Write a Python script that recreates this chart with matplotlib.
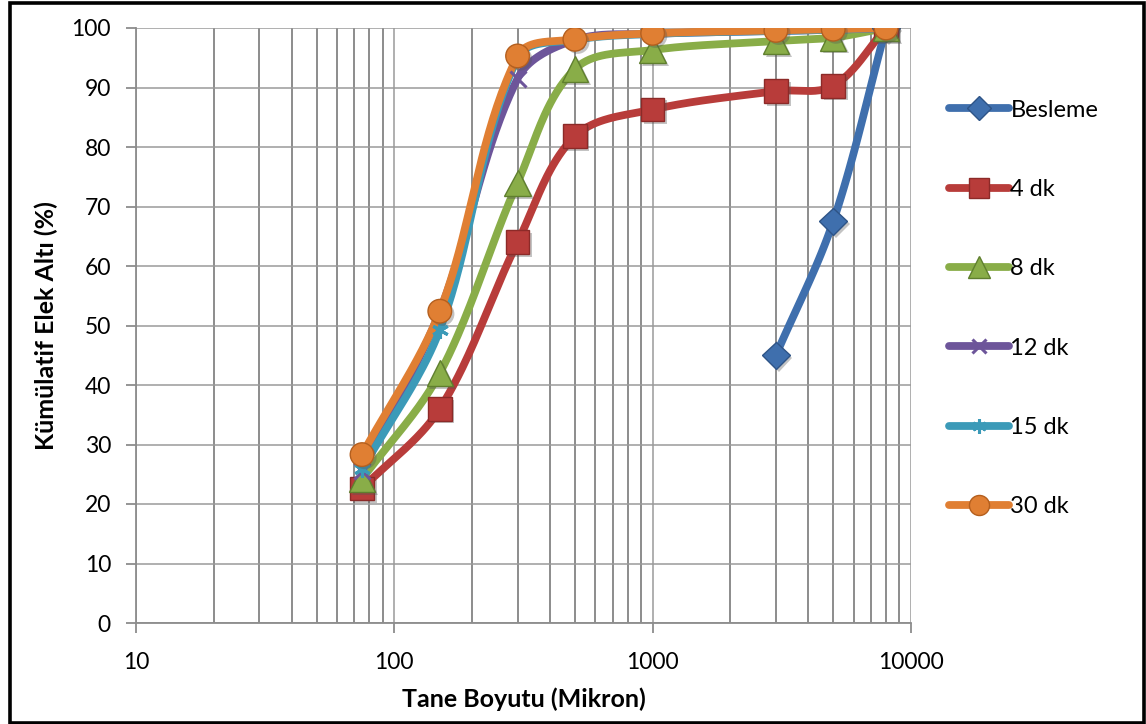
import numpy as np
import matplotlib
matplotlib.use("Agg")
import matplotlib.pyplot as plt
import matplotlib.patheffects as pe
from matplotlib.patches import Rectangle
from matplotlib.ticker import LogLocator, FixedLocator, NullFormatter, FuncFormatter

plt.rcParams['font.family'] = ['Lato', 'DejaVu Sans']

# Sieve sizes (micron) and cumulative undersize (%) for each grinding time
sizes = [75, 150, 300, 500, 1000, 3000, 5000, 8000]
besleme_sizes = [3000, 5000, 8000]
besleme = [45.0, 67.5, 100.0]
dk4 = [22.6, 36.0, 64.0, 81.8, 86.3, 89.4, 90.3, 100.0]
dk8 = [24.2, 42.0, 74.0, 93.1, 96.3, 97.8, 98.4, 100.0]
dk12 = [25.5, 52.4, 91.5, 98.0, 99.0, 99.5, 99.7, 100.0]
dk15 = [25.8, 49.3, 95.0, 98.0, 99.0, 99.5, 99.7, 100.0]
dk30 = [28.3, 52.4, 95.3, 98.1, 99.1, 99.6, 99.8, 100.0]

labels = ['Besleme', '4 dk', '8 dk', '12 dk', '15 dk', '30 dk']
colors = ['#3F6FAD', '#B83C3A', '#89AD48', '#6D559A', '#3B9AB8', '#E07F33']
edge_colors = ['#2E5487', '#8C2A28', '#5F7F2E', '#4E3B75', '#2A7690', '#B45F1E']
markers = ['D', 's', '^', 'x', (6, 2, 0), 'o']
msizes = [14, 17, 19, 12, 12, 17]

series = [
    (besleme_sizes, besleme),
    (sizes, dk4),
    (sizes, dk8),
    (sizes, dk12),
    (sizes, dk15),
    (sizes, dk30),
]

W, H = 1146, 724
fig = plt.figure(figsize=(W / 100, H / 100), dpi=100)
L, R, T, B = 136, 911, 28, 623
ax = fig.add_axes([L / W, 1 - B / H, (R - L) / W, (B - T) / H])

XMIN, XMAX, YMIN, YMAX = 10, 10000, 0, 100
ax.set_xscale('log')
ax.set_xlim(XMIN, XMAX)
ax.set_ylim(YMIN, YMAX)

pw, ph = R - L, B - T


def smooth(xs, ys, n=40, k=1 / 3):
    """Bezier smoothing in screen space; handle length follows each segment's length."""
    u = (np.log10(np.asarray(xs, float)) - np.log10(XMIN)) / np.log10(XMAX / XMIN) * pw
    v = (np.asarray(ys, float) - YMIN) / (YMAX - YMIN) * ph
    P = np.column_stack([u, v])
    m = len(P)

    def tangent(i):
        a = P[i - 1] if i > 0 else P[i]
        b = P[i + 1] if i + 1 < m else P[i]
        d = b - a
        return d / np.hypot(*d)

    out = [P[0]]
    t = np.linspace(0, 1, n)[1:, None]
    for i in range(m - 1):
        seg_len = np.hypot(*(P[i + 1] - P[i]))
        c1 = P[i] + tangent(i) * seg_len * k
        c2 = P[i + 1] - tangent(i + 1) * seg_len * k
        seg = ((1 - t) ** 3) * P[i] + 3 * ((1 - t) ** 2) * t * c1 \
            + 3 * (1 - t) * t ** 2 * c2 + t ** 3 * P[i + 1]
        out.extend(seg)
    out = np.array(out)
    xs_s = 10 ** (out[:, 0] / pw * np.log10(XMAX / XMIN) + np.log10(XMIN))
    ys_s = out[:, 1] / ph * (YMAX - YMIN) + YMIN
    return xs_s, ys_s


ax.xaxis.set_major_locator(LogLocator(base=10, numticks=10))
ax.xaxis.set_minor_locator(LogLocator(base=10, subs=np.arange(2, 10), numticks=50))
ax.xaxis.set_minor_formatter(NullFormatter())
ax.xaxis.set_major_formatter(FuncFormatter(lambda v, p: f'{int(round(v))}'))
ax.yaxis.set_major_locator(FixedLocator(np.arange(0, 101, 10)))

ax.grid(True, which='major', axis='both', color='#9A9A9A', lw=1.1)
ax.grid(True, which='minor', axis='x', color='#6E6E6E', lw=1.1)
ax.set_axisbelow(True)

for s in ['top', 'right']:
    ax.spines[s].set_visible(False)
for s in ['left', 'bottom']:
    ax.spines[s].set_color('#8C8C8C')
    ax.spines[s].set_linewidth(1.3)

ax.tick_params(axis='both', which='major', direction='out', length=7, width=1.3,
               color='#8C8C8C', labelsize=16.5, labelcolor='black')
ax.tick_params(axis='y', which='major', pad=11)
ax.tick_params(axis='x', which='major', pad=14)
ax.tick_params(axis='x', which='minor', length=0)

shadow = [pe.SimplePatchShadow(offset=(2, -2), alpha=0.35, shadow_rgbFace='#555555'), pe.Normal()]

LW = 5.6
handles = []
for (xs, ys), lab, c, ec, mk, ms in zip(series, labels, colors, edge_colors, markers, msizes):
    thin = (mk == 'x') or isinstance(mk, tuple)
    sx, sy = smooth(xs, ys)
    ax.plot(sx, sy, color=c, lw=LW, solid_capstyle='round', zorder=3)
    if thin:
        ax.plot(xs, ys, ls='none', marker=mk, ms=ms, mew=2.2, color=c, zorder=4)
    else:
        ax.plot(xs, ys, ls='none', marker=mk, ms=ms, mfc=c, mec=ec, mew=1.0,
                zorder=4, path_effects=shadow)
    h, = ax.plot([], [], color=c, lw=LW, solid_capstyle='round', marker=mk,
                 ms=ms * 0.85, mfc=c, mec=c if thin else ec,
                 mew=2.2 if thin else 1.0, label=lab)
    handles.append(h)

ax.set_xlabel('Tane Boyutu (Mikron)', fontsize=18, fontweight='bold', labelpad=10)
ax.set_ylabel('Kümülatif Elek Altı (%)', fontsize=18, fontweight='bold', labelpad=10)

leg = fig.legend(handles=handles, loc='center left',
                 bbox_to_anchor=(949 / W, 1 - 308.5 / H), frameon=False,
                 fontsize=17, handlelength=2.55, handletextpad=0.05,
                 labelspacing=2.47, borderaxespad=0, borderpad=0)

fig.add_artist(Rectangle((10 / W, 1.5 / H), (1143.5 - 10) / W, (721.5 - 1.5) / H,
                         transform=fig.transFigure, fill=False, edgecolor='black',
                         lw=2.6, zorder=10))

fig.savefig('out.png', dpi=100, facecolor='white')
